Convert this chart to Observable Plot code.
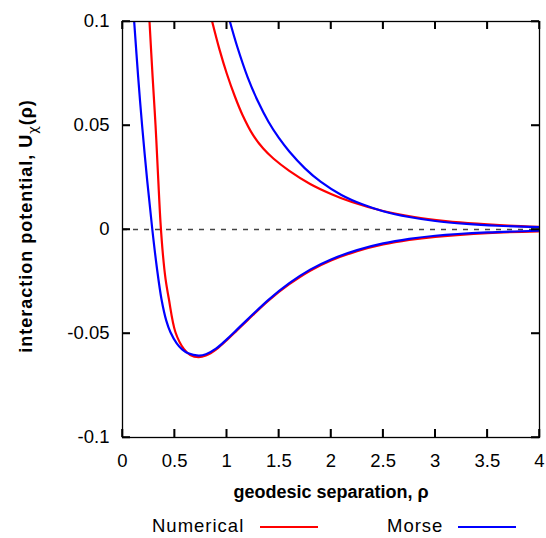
<!DOCTYPE html>
<html>
<head>
<meta charset="utf-8">
<script src="https://cdn.jsdelivr.net/npm/d3@7"></script>
<script src="https://cdn.jsdelivr.net/npm/@observablehq/plot@0.6"></script>
<style>
  body { margin: 0; background: #fff; font-family: "Liberation Sans", Arial, sans-serif; }
  #chart svg { display: block; }
  #legend { position: relative; width: 546px; height: 28px; font-size: 18.5px; letter-spacing: 1px; line-height: 1; color: #000; }
  #legend .lab { position: absolute; top: 7.3px; white-space: nowrap; }
  #legend .sw { position: absolute; top: 15.7px; width: 58px; height: 2px; }
</style>
</head>
<body>
<div id="chart"></div>
<div id="legend"></div>
<script>
// ---- data ----
const seriesNames = ["Numerical", "Morse"];
const seriesColors = ["#ff0000", "#0000ff"];

const xTicks = [0, 0.5, 1, 1.5, 2, 2.5, 3, 3.5, 4];
const yTicks = [-0.1, -0.05, 0, 0.05, 0.1];

// Numerical, attractive (well) branch
const rhoNumLow = [0.259, 0.288, 0.317, 0.341, 0.3645, 0.3885, 0.4125, 0.444, 0.508, 0.588, 0.65, 0.729, 0.80, 0.90, 1.0, 1.1, 1.2, 1.4, 1.6, 1.8, 2.0, 2.25, 2.5, 2.75, 3.0, 3.5, 4.0];
const uNumLow   = [0.1, 0.0741, 0.050, 0.026, 0.0034, -0.0125, -0.0236, -0.0332, -0.0494, -0.0574, -0.0603, -0.0614, -0.0606, -0.0576, -0.0532, -0.0484, -0.0436, -0.0342, -0.0263, -0.0198, -0.0149, -0.0104, -0.0072, -0.0050, -0.0035, -0.0017, -0.0009];

// Numerical, repulsive branch
const rhoNumUp = [0.86, 0.93, 1.0, 1.08, 1.15, 1.25, 1.35, 1.45, 1.6, 1.8, 2.0, 2.2, 2.5, 2.8, 3.1, 3.4, 3.7, 4.0];
const uNumUp   = [0.1, 0.0866, 0.0750, 0.0637, 0.0552, 0.0456, 0.0389, 0.0340, 0.0282, 0.0219, 0.0171, 0.0132, 0.0089, 0.0060, 0.0041, 0.0028, 0.0019, 0.0013];

// Morse, attractive (well) branch
const rhoMorseLow = [0.112, 0.15, 0.188, 0.237, 0.286, 0.33, 0.374, 0.42, 0.46, 0.52, 0.572, 0.63, 0.73, 0.80, 0.90, 1.0, 1.1, 1.2, 1.4, 1.6, 1.8, 2.0, 2.25, 2.5, 2.75, 3.0, 3.5, 4.0];
const uMorseLow   = [0.1, 0.0735, 0.050, 0.0235, 0.0, -0.0185, -0.0335, -0.0438, -0.0494, -0.0547, -0.0576, -0.0595, -0.0606, -0.0600, -0.0572, -0.0528, -0.0480, -0.0432, -0.0338, -0.0258, -0.0193, -0.0144, -0.0099, -0.0067, -0.0045, -0.0030, -0.0014, -0.0006];

// Morse, repulsive branch
const rhoMorseUp = [1.03, 1.1, 1.2, 1.3, 1.4, 1.5, 1.6, 1.75, 1.9, 2.1, 2.3, 2.5, 2.75, 3.0, 3.3, 3.6, 4.0];
const uMorseUp   = [0.1, 0.0880, 0.0733, 0.0615, 0.0518, 0.0440, 0.0375, 0.0294, 0.0230, 0.0166, 0.0121, 0.0088, 0.0060, 0.0041, 0.0027, 0.0018, 0.0011];

// ---- build table ----
function rows(series, branch, xs, ys) {
  return xs.map((x, i) => ({series, key: series + "-" + branch, rho: x, u: ys[i]}));
}
const data = [
  ...rows("Numerical", "low", rhoNumLow, uNumLow),
  ...rows("Numerical", "up", rhoNumUp, uNumUp),
  ...rows("Morse", "low", rhoMorseLow, uMorseLow),
  ...rows("Morse", "up", rhoMorseUp, uMorseUp)
];

const W = 546, H = 510, ML = 122, MR = 7, MT = 21, MB = 73;
const TICK = 8;
const innerW = W - ML - MR, innerH = H - MT - MB;
const fmt = d => String(d);
const tickStyle = {stroke: "#000", strokeWidth: 1.5};

const chart = Plot.plot({
  width: W,
  height: H,
  marginLeft: ML,
  marginRight: MR,
  marginTop: MT,
  marginBottom: MB,
  x: {domain: [0, 4]},
  y: {domain: [-0.1, 0.1]},
  color: {domain: seriesNames, range: seriesColors},
  style: {fontFamily: "'Liberation Sans', Arial, sans-serif", fontSize: "18.5px", background: "#fff", color: "#000"},
  marks: [
    Plot.ruleY([0], {stroke: "#444", strokeWidth: 1.3, strokeDasharray: "5,6"}),
    Plot.line(data, {x: "rho", y: "u", z: "key", stroke: "series", strokeWidth: 2.2, curve: "catmull-rom", clip: true}),
    // inward tick marks on all four sides
    Plot.tickX(xTicks, {x: d => d, insetTop: innerH - TICK, ...tickStyle}),
    Plot.tickX(xTicks, {x: d => d, insetBottom: innerH - TICK, ...tickStyle}),
    Plot.tickY(yTicks, {y: d => d, insetRight: innerW - TICK, ...tickStyle}),
    Plot.tickY(yTicks, {y: d => d, insetLeft: innerW - TICK, ...tickStyle}),
    // tick labels
    Plot.axisX({ticks: xTicks, tickSize: 0, tickPadding: 16, tickFormat: fmt, label: null, letterSpacing: "1px"}),
    Plot.axisY({ticks: yTicks, tickSize: 0, tickPadding: 13, tickFormat: fmt, label: null, letterSpacing: "1px"}),
    Plot.frame({stroke: "#000", strokeWidth: 1.3}),
    Plot.text(["geodesic separation, ρ"], {frameAnchor: "bottom", dy: 60, lineAnchor: "bottom", fontWeight: "bold", fontSize: 18, letterSpacing: "1.5px"})
  ]
});
document.getElementById("chart").appendChild(chart);

const svg = d3.select(chart);

// inward ticks again, placed through the plot's own scales
const sx = chart.scale("x"), sy = chart.scale("y");
const tg = svg.append("g").attr("stroke", "#000").attr("stroke-width", 1.5);
xTicks.forEach(v => {
  const px = sx.apply(v);
  tg.append("line").attr("x1", px).attr("x2", px).attr("y1", H - MB).attr("y2", H - MB - TICK);
  tg.append("line").attr("x1", px).attr("x2", px).attr("y1", MT).attr("y2", MT + TICK);
});
yTicks.forEach(v => {
  const py = sy.apply(v);
  tg.append("line").attr("y1", py).attr("y2", py).attr("x1", ML).attr("x2", ML + TICK);
  tg.append("line").attr("y1", py).attr("y2", py).attr("x1", W - MR).attr("x2", W - MR - TICK);
});

// y-axis label with subscript
const yl = svg.append("text")
  .attr("transform", "translate(32,226) rotate(-90)")
  .attr("text-anchor", "middle")
  .attr("font-weight", "bold")
  .attr("font-size", 18)
  .attr("letter-spacing", "1px")
  .attr("fill", "#000");
yl.append("tspan").text("interaction potential, U");
yl.append("tspan").attr("dy", 5).attr("font-size", 13).attr("font-family", "'DejaVu Sans', sans-serif").attr("font-weight", "normal").text("χ");
yl.append("tspan").attr("dy", -5).text("(ρ)");

// legend
const legend = d3.select("#legend");
const labLeft = [152, 387];
const swLeft = [260, 458];
seriesNames.forEach((name, i) => {
  legend.append("span").attr("class", "lab").style("left", labLeft[i] + "px").text(name);
  legend.append("span").attr("class", "sw").style("left", swLeft[i] + "px").style("background", seriesColors[i]);
});
</script>
</body>
</html>
